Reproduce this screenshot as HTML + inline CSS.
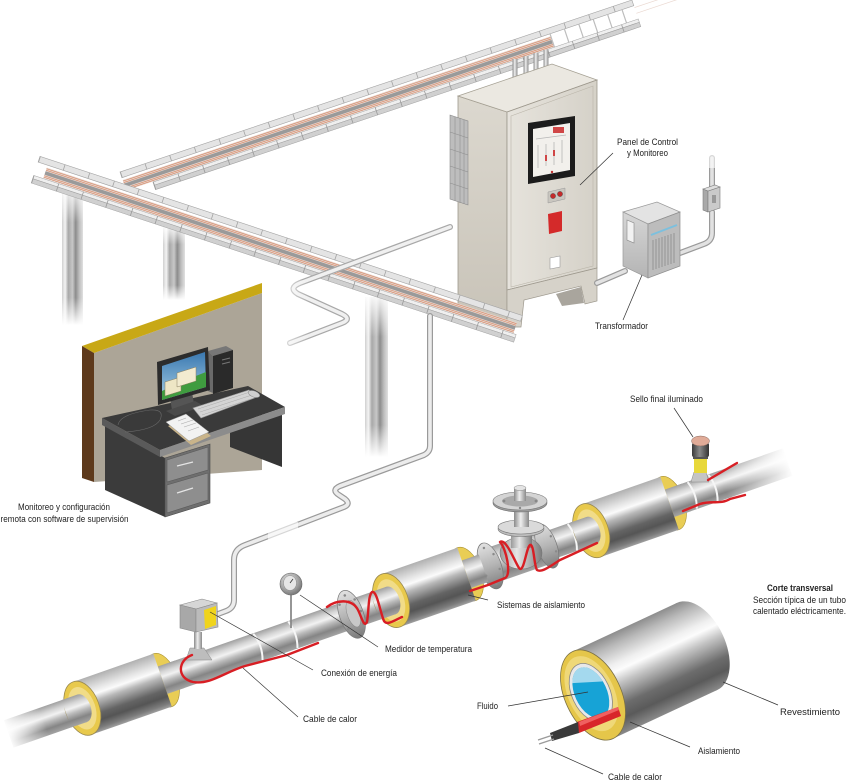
<!DOCTYPE html>
<html><head><meta charset="utf-8"><style>
html,body{margin:0;padding:0;background:#fff;}
svg{display:block;}
text{font-family:"Liberation Sans",Arial,sans-serif;font-size:9.5px;fill:#222;}
</style></head><body>
<svg width="847" height="782" viewBox="0 0 847 782" xmlns="http://www.w3.org/2000/svg">
<defs>
<linearGradient id="pipeG" x1="0" y1="0" x2="0" y2="1">
<stop offset="0" stop-color="#a0a0a0"/><stop offset="0.22" stop-color="#d6d6d6"/><stop offset="0.38" stop-color="#f2f2f2"/><stop offset="0.55" stop-color="#bcbcbc"/><stop offset="0.78" stop-color="#858585"/><stop offset="1" stop-color="#a4a4a4"/>
</linearGradient>
<linearGradient id="insG" x1="0" y1="0" x2="0" y2="1">
<stop offset="0" stop-color="#b0b0b0"/><stop offset="0.22" stop-color="#e4e4e4"/><stop offset="0.33" stop-color="#fbfbfb"/><stop offset="0.45" stop-color="#b8b8b8"/><stop offset="0.68" stop-color="#646464"/><stop offset="0.8" stop-color="#555"/><stop offset="0.93" stop-color="#7c7c7c"/><stop offset="1" stop-color="#a0a0a0"/>
</linearGradient>
<linearGradient id="bigG" x1="0" y1="0" x2="0" y2="1">
<stop offset="0" stop-color="#8d8d8d"/><stop offset="0.12" stop-color="#b9b9b9"/><stop offset="0.3" stop-color="#efefef"/><stop offset="0.38" stop-color="#fcfcfc"/><stop offset="0.5" stop-color="#c4c4c4"/><stop offset="0.72" stop-color="#6c6c6c"/><stop offset="0.85" stop-color="#5a5a5a"/><stop offset="1" stop-color="#8a8a8a"/>
</linearGradient>
<linearGradient id="flG" x1="0" y1="0" x2="0" y2="1">
<stop offset="0" stop-color="#e2e2e2"/><stop offset="0.5" stop-color="#b4b4b4"/><stop offset="1" stop-color="#7a7a7a"/>
</linearGradient>
<linearGradient id="stemG" x1="0" y1="0" x2="1" y2="0">
<stop offset="0" stop-color="#8a8a8a"/><stop offset="0.45" stop-color="#eeeeee"/><stop offset="1" stop-color="#8a8a8a"/>
</linearGradient>
<linearGradient id="vbG" x1="0" y1="0" x2="1" y2="0">
<stop offset="0" stop-color="#9a9a9a"/><stop offset="0.4" stop-color="#e6e6e6"/><stop offset="1" stop-color="#7c7c7c"/>
</linearGradient>
<linearGradient id="fadeL" x1="0" y1="0" x2="1" y2="0">
<stop offset="0" stop-color="#fff" stop-opacity="1"/><stop offset="1" stop-color="#fff" stop-opacity="0"/>
</linearGradient>
<linearGradient id="fadeR" x1="0" y1="0" x2="1" y2="0">
<stop offset="0" stop-color="#fff" stop-opacity="0"/><stop offset="1" stop-color="#fff" stop-opacity="1"/>
</linearGradient>
<linearGradient id="colG" x1="0" y1="0" x2="1" y2="0">
<stop offset="0" stop-color="#d0d0d0"/><stop offset="0.15" stop-color="#f4f4f4"/><stop offset="0.3" stop-color="#a8a8a8"/><stop offset="0.5" stop-color="#c8c8c8"/><stop offset="0.65" stop-color="#8c8c8c"/><stop offset="0.82" stop-color="#bdbdbd"/><stop offset="1" stop-color="#e0e0e0"/>
</linearGradient>
<linearGradient id="colFade" x1="0" y1="0" x2="0" y2="1">
<stop offset="0" stop-color="#fff" stop-opacity="0.9"/><stop offset="0.25" stop-color="#fff" stop-opacity="0"/><stop offset="0.8" stop-color="#fff" stop-opacity="0"/><stop offset="1" stop-color="#fff" stop-opacity="1"/>
</linearGradient>
<linearGradient id="frontG" x1="0" y1="0" x2="1" y2="0">
<stop offset="0" stop-color="#e6e3dc"/><stop offset="1" stop-color="#d5d1c8"/>
</linearGradient>
<linearGradient id="sideG" x1="0" y1="0" x2="0" y2="1">
<stop offset="0" stop-color="#dcd8cf"/><stop offset="1" stop-color="#c8c3b8"/>
</linearGradient>
<linearGradient id="trL" x1="0" y1="0" x2="0" y2="1">
<stop offset="0" stop-color="#d6d6d6"/><stop offset="1" stop-color="#b4b4b4"/>
</linearGradient>
<linearGradient id="sky" x1="0" y1="0" x2="0" y2="1">
<stop offset="0" stop-color="#3a78b0"/><stop offset="1" stop-color="#a6cfe6"/>
</linearGradient>
<radialGradient id="gaugeG" cx="0.4" cy="0.35" r="0.7">
<stop offset="0" stop-color="#f0f0f0"/><stop offset="1" stop-color="#707070"/>
</radialGradient>
<linearGradient id="knobG" x1="0" y1="0" x2="1" y2="0">
<stop offset="0" stop-color="#3a3a3a"/><stop offset="0.45" stop-color="#8a8a8a"/><stop offset="1" stop-color="#333"/>
</linearGradient>
</defs>

<!-- PILLARS -->
<rect x="62" y="188" width="21" height="137" fill="url(#colG)"/>
<rect x="62" y="188" width="21" height="137" fill="url(#colFade)"/>
<rect x="163" y="226" width="22" height="74" fill="url(#colG)"/>
<rect x="163" y="226" width="22" height="74" fill="url(#colFade)"/>
<rect x="365" y="297" width="23" height="160" fill="url(#colG)"/>
<rect x="365" y="297" width="23" height="160" fill="url(#colFade)"/>

<!-- UPPER TRAY -->
<g transform="translate(120,172) rotate(-18.57)">
<line x1="540" y1="8" x2="600" y2="8" stroke="#ead8d0" stroke-width="0.7"/>
<line x1="540" y1="14" x2="590" y2="14" stroke="#ead8d0" stroke-width="0.7"/>
<rect x="0" y="0" width="540" height="6" fill="#e4e4e4" stroke="#a3a3a3" stroke-width="0.6"/>
<line x1="0" y1="3" x2="540" y2="3" stroke="#a3a3a3" stroke-width="6" stroke-dasharray="0.8 25.2"/>
<line x1="451" y1="13" x2="540" y2="13" stroke="#bdbdbd" stroke-width="14" stroke-dasharray="1.2 14"/>
<rect x="0" y="8.5" width="451" height="11" fill="#e8d6ce"/>
<rect x="0" y="12.3" width="451" height="3.6" fill="#9a9a9a"/>
<g stroke="#d68e6e" stroke-width="0.7">
<line x1="0" y1="9.6" x2="451" y2="9.6"/><line x1="0" y1="11.2" x2="451" y2="11.2"/>
<line x1="0" y1="17" x2="451" y2="17"/><line x1="0" y1="18.6" x2="451" y2="18.6"/>
</g>
<rect x="28" y="20" width="512" height="3.5" fill="#efefef" stroke="#a0a0a0" stroke-width="0.5"/>
<rect x="28" y="23.5" width="512" height="4.5" fill="#d0d0d0" stroke="#a0a0a0" stroke-width="0.5"/>
<line x1="28" y1="24" x2="540" y2="24" stroke="#9a9a9a" stroke-width="8" stroke-dasharray="0.8 25.2"/>
</g>

<!-- conduits from cabinet to tray -->
<rect x="512.5" y="59" width="5" height="22" fill="url(#stemG)"/>
<rect x="523.5" y="56" width="5" height="22" fill="url(#stemG)"/>
<rect x="533.5" y="53" width="5" height="21" fill="url(#stemG)"/>
<rect x="543.5" y="50" width="5" height="21" fill="url(#stemG)"/>
<g fill="#d4d4d4" stroke="#888" stroke-width="0.5">
<ellipse cx="515" cy="81" rx="4" ry="1.6"/><ellipse cx="526" cy="78" rx="4" ry="1.6"/><ellipse cx="536" cy="74" rx="4" ry="1.6"/><ellipse cx="546" cy="71" rx="4" ry="1.6"/>
</g>

<!-- CABINET -->
<polygon points="458,96 507,112 507,327 458,307" fill="url(#sideG)" stroke="#9d988d" stroke-width="0.8"/>
<polygon points="458,96 552,64 597,80 507,112" fill="#ebe8e1" stroke="#a5a093" stroke-width="0.8"/>
<polygon points="507,112 597,80 597,268 507,290" fill="url(#frontG)" stroke="#9d988d" stroke-width="0.8"/>
<polygon points="511,116 593,86 593,266 511,287" fill="none" stroke="#b9b4a8" stroke-width="0.6"/>
<polygon points="507,290 597,268 597,301 585,304 581,286 524,300 521,327 507,327" fill="#d6d2c9" stroke="#9d988d" stroke-width="0.7"/>
<polygon points="556,294 581,287 584,303 562,306" fill="#a9a59d"/>
<!-- side vents -->
<polygon points="450,115 468,121 468,205 450,199" fill="#bdbdbd" stroke="#8a8a8a" stroke-width="0.6"/>
<g stroke="#8f8f8f" stroke-width="0.6">
<line x1="450" y1="132" x2="468" y2="138"/><line x1="450" y1="149" x2="468" y2="155"/><line x1="450" y1="166" x2="468" y2="172"/><line x1="450" y1="183" x2="468" y2="189"/>
<line x1="455" y1="117" x2="455" y2="201"/><line x1="460" y1="118" x2="460" y2="203"/><line x1="464" y1="120" x2="464" y2="204"/>
</g>
<!-- screen -->
<polygon points="528,123 575,116 575,176 528,184" fill="#1c1c1c"/>
<polygon points="533,129 570,123 570,170 533,177" fill="#f2f0ec"/>
<rect x="553" y="127" width="11" height="6" fill="#d04646"/>
<g stroke="#b7b7b7" stroke-width="0.8">
<line x1="536" y1="139" x2="566" y2="135"/><line x1="538" y1="145" x2="538" y2="168"/><line x1="546" y1="144" x2="546" y2="166"/><line x1="554" y1="142" x2="554" y2="165"/><line x1="562" y1="140" x2="562" y2="163"/>
</g>
<rect x="545" y="155" width="2" height="6" fill="#d04646"/><rect x="553" y="150" width="2" height="6" fill="#d04646"/>
<circle cx="552" cy="172" r="1.2" fill="#c03030"/>
<!-- buttons -->
<polygon points="548,192 565,188 565,199 548,203" fill="#c9c6bf" stroke="#999" stroke-width="0.5"/>
<circle cx="553" cy="196" r="2.6" fill="#c42a2a" stroke="#555" stroke-width="0.5"/>
<circle cx="560" cy="194" r="2.6" fill="#c42a2a" stroke="#555" stroke-width="0.5"/>
<polygon points="548,214 562,211 562,231 549,234" fill="#d42a2a"/>
<polygon points="550,258 560,256 560,267 550,269" fill="#fff" stroke="#999" stroke-width="0.6"/>

<!-- FRONT TRAY -->
<g transform="translate(40,156.4) rotate(18.26)">
<rect x="0" y="0" width="508" height="6" fill="#e4e4e4" stroke="#a3a3a3" stroke-width="0.6"/>
<line x1="0" y1="3" x2="508" y2="3" stroke="#a3a3a3" stroke-width="6" stroke-dasharray="0.8 25.2"/>
<rect x="10" y="8.5" width="495" height="11" fill="#e8d6ce"/>
<rect x="10" y="12.3" width="495" height="3.6" fill="#9a9a9a"/>
<g stroke="#d68e6e" stroke-width="0.7">
<line x1="10" y1="9.6" x2="505" y2="9.6"/><line x1="10" y1="11.2" x2="505" y2="11.2"/>
<line x1="10" y1="17" x2="505" y2="17"/><line x1="10" y1="18.6" x2="505" y2="18.6"/>
</g>
<rect x="0" y="20" width="508" height="3.5" fill="#efefef" stroke="#a0a0a0" stroke-width="0.5"/>
<rect x="0" y="23.5" width="508" height="4.5" fill="#d0d0d0" stroke="#a0a0a0" stroke-width="0.5"/>
<line x1="0" y1="24" x2="508" y2="24" stroke="#9a9a9a" stroke-width="8" stroke-dasharray="0.8 25.2"/>
</g>

<!-- CONDUITS -->
<g fill="none" stroke-linejoin="round" stroke-linecap="round">
<path d="M450 227 L300 283 Q288 288 298 294 L342 314 Q352 319 342 323 L290 343" stroke="#a8a8a8" stroke-width="6"/>
<path d="M450 227 L300 283 Q288 288 298 294 L342 314 Q352 319 342 323 L290 343" stroke="#f0f0f0" stroke-width="3.6"/>
<path d="M430 316 L430 446 Q430 452 424 455 L340 486 Q331 490 339 495 L345 499 Q351 504 344 507 L245 545 Q234 549 234 560 L234 600 Q234 608 226 611 L218 614" stroke="#9a9a9a" stroke-width="6"/>
<path d="M430 316 L430 446 Q430 452 424 455 L340 486 Q331 490 339 495 L345 499 Q351 504 344 507 L245 545 Q234 549 234 560 L234 600 Q234 608 226 611 L218 614" stroke="#ececec" stroke-width="3.6"/>
<path d="M597 283 L625 271" stroke="#9a9a9a" stroke-width="6"/>
<path d="M597 283 L625 271" stroke="#e2e2e2" stroke-width="3.6"/>
<path d="M680 253 L704 244 Q712 241 712 233 L712 212 M712 188 L712 158" stroke="#9a9a9a" stroke-width="6"/>
<path d="M680 253 L704 244 Q712 241 712 233 L712 212 M712 188 L712 158" stroke="#e2e2e2" stroke-width="3.6"/>
</g>
<rect x="280" y="280" width="30" height="70" fill="url(#fadeL)" opacity="0.7"/>
<rect x="705" y="150" width="15" height="18" fill="#fff" opacity="0.6"/>
<rect x="268" y="522" width="30" height="18" fill="#fff" opacity="0.6"/>
<!-- small junction box near transformer -->
<polygon points="703,189 708,191 708,212 703,210" fill="#a9a9a9" stroke="#7d7d7d" stroke-width="0.6"/>
<polygon points="708,191 720,187 720,208 708,212" fill="#cacaca" stroke="#7d7d7d" stroke-width="0.6"/>
<polygon points="703,189 715,185 720,187 708,191" fill="#dedede" stroke="#7d7d7d" stroke-width="0.6"/>
<rect x="712" y="195" width="4" height="8" fill="#999"/>

<!-- TRANSFORMER -->
<polygon points="623,212 657,202 680,212 648,224" fill="#e3e3e3" stroke="#9a9a9a" stroke-width="0.7"/>
<polygon points="623,212 648,224 648,278 623,266" fill="url(#trL)" stroke="#9a9a9a" stroke-width="0.7"/>
<polygon points="648,224 680,212 680,266 648,278" fill="#bcbcbc" stroke="#8f8f8f" stroke-width="0.7"/>
<polygon points="627,220 634,223 634,243 627,240" fill="#f2f2f2" stroke="#888" stroke-width="0.6"/>
<line x1="651" y1="235" x2="677" y2="225" stroke="#7cc0de" stroke-width="2"/>
<g stroke="#8a8a8a" stroke-width="0.8">
<line x1="653" y1="240" x2="653" y2="270"/><line x1="656" y1="239" x2="656" y2="269"/><line x1="659" y1="238" x2="659" y2="268"/><line x1="662" y1="237" x2="662" y2="267"/><line x1="665" y1="236" x2="665" y2="266"/><line x1="668" y1="235" x2="668" y2="265"/><line x1="671" y1="234" x2="671" y2="264"/><line x1="674" y1="233" x2="674" y2="263"/>
</g>

<!-- WALL & DESK -->
<polygon points="94,353 262,293 262,470 94,482" fill="#aca597"/>
<polygon points="82,346 262,283 262,293 94,353" fill="#c8a816"/>
<polygon points="82,346 94,353 94,482 82,478" fill="#5e3a1c"/>
<polygon points="105,425 165,458 165,517 105,490" fill="#3b3b3b"/>
<polygon points="230,427 282,413 282,467 230,447" fill="#363636"/>
<polygon points="165,458 210,444 210,503 165,517" fill="#6e6e6e" stroke="#4a4a4a" stroke-width="0.6"/>
<polygon points="167,460 208,447 208,470 167,482" fill="#8e8e8e" stroke="#5a5a5a" stroke-width="0.6"/>
<polygon points="167,485 208,473 208,500 167,513" fill="#8e8e8e" stroke="#5a5a5a" stroke-width="0.6"/>
<line x1="177" y1="466" x2="193" y2="462" stroke="#e4e4e4" stroke-width="1.4"/>
<line x1="177" y1="493" x2="193" y2="488" stroke="#e4e4e4" stroke-width="1.4"/>
<polygon points="102,418 248,386 285,407 160,450" fill="#3a3a3a"/>
<polygon points="160,450 285,407 285,414 160,457" fill="#8c8c8c"/>
<polygon points="102,418 160,450 160,457 102,425" fill="#5a5a5a"/>
<path d="M118 425 Q120 414 150 410 Q165 409 160 420 Q154 430 125 432" fill="none" stroke="#6a6a6a" stroke-width="0.6"/>
<!-- papers -->
<polygon points="168,426 189,418 211,436 191,445" fill="#c9b48a"/>
<polygon points="166,422 186,414 209,432 189,441" fill="#f2f2f2" stroke="#999" stroke-width="0.5"/>
<g stroke="#aaa" stroke-width="0.6"><line x1="178" y1="421" x2="186" y2="418"/><line x1="181" y1="424" x2="193" y2="420"/><line x1="184" y1="427" x2="196" y2="423"/><line x1="188" y1="431" x2="199" y2="427"/></g>
<!-- tower -->
<polygon points="208,351 226,346 233,350 213,356" fill="#777"/>
<polygon points="208,351 213,356 213,393 208,391" fill="#6a6a6a"/>
<polygon points="213,356 233,350 233,388 213,394" fill="#2a2a2a"/>
<line x1="222" y1="360" x2="230" y2="358" stroke="#777" stroke-width="1"/><line x1="222" y1="364" x2="230" y2="362" stroke="#777" stroke-width="1"/>
<!-- monitor -->
<polygon points="170,398 192,392 194,404 172,410" fill="#555"/>
<polygon points="166,411 195,401 204,406 175,416" fill="#4a4a4a"/>
<polygon points="157,362 208,347 210,390 158,405" fill="#2c2c2c"/>
<polygon points="162,366 205,352 206,387 162,400" fill="url(#sky)"/>
<polygon points="162,391 183,381 206,372 206,387 162,400" fill="#3f9c3f"/>
<polygon points="165,382 181,377 181,391 165,396" fill="#eee6c5" stroke="#8a8060" stroke-width="0.5"/>
<polygon points="177,373 196,367 196,381 177,387" fill="#f2ebd0" stroke="#8a8060" stroke-width="0.5"/>
<!-- keyboard & mouse -->
<polygon points="193,408 249,390 257,397 201,418" fill="#d4d4d4" stroke="#999" stroke-width="0.6"/>
<g stroke="#aaa" stroke-width="0.5"><line x1="198" y1="409" x2="250" y2="392"/><line x1="200" y1="412" x2="252" y2="395"/><line x1="202" y1="415" x2="254" y2="398"/></g>
<ellipse cx="254" cy="394" rx="6" ry="3" fill="#cfcfcf" stroke="#888" stroke-width="0.5" transform="rotate(20 254 394)"/>

<!-- PIPELINE -->
<g transform="translate(20,730) rotate(-19.24)">
<rect x="-12" y="-14.5" width="825" height="29" fill="url(#pipeG)"/>
<g stroke="#f6f6f6" stroke-width="2" fill="none">
<path d="M252 -14 Q257 0 252 14"/><path d="M289 -14 Q294 0 289 14"/><path d="M585 -14 Q590 0 585 14"/><path d="M712 -14 Q717 0 712 14"/><path d="M734 -14 Q739 0 734 14"/>
</g>
<!-- flange -->
<rect x="342" y="-17" width="18" height="34" fill="url(#pipeG)"/>
<ellipse cx="351" cy="0" rx="12" ry="25" fill="url(#flG)" stroke="#7a7a7a" stroke-width="0.7"/>
<ellipse cx="353" cy="0" rx="6" ry="14" fill="#c8c8c8" stroke="#888" stroke-width="0.5"/>
<g fill="#8a8a8a"><circle cx="351" cy="-20" r="1.3"/><circle cx="359" cy="-13" r="1.3"/><circle cx="361" cy="0" r="1.3"/><circle cx="359" cy="13" r="1.3"/><circle cx="351" cy="20" r="1.3"/><circle cx="343" cy="13" r="1.3"/><circle cx="343" cy="-13" r="1.3"/></g>
<!-- valve pipe part -->
<rect x="498" y="-18" width="60" height="36" fill="url(#pipeG)"/>
<ellipse cx="498" cy="0" rx="11" ry="24" fill="url(#flG)" stroke="#777" stroke-width="0.7"/>
<ellipse cx="558" cy="0" rx="10" ry="23" fill="url(#flG)" stroke="#777" stroke-width="0.7"/>
<g fill="#8a8a8a"><circle cx="498" cy="-19" r="1.2"/><circle cx="505" cy="-10" r="1.2"/><circle cx="506" cy="6" r="1.2"/><circle cx="498" cy="19" r="1.2"/><circle cx="491" cy="8" r="1.2"/><circle cx="565" cy="-8" r="1.2"/><circle cx="565" cy="8" r="1.2"/><circle cx="558" cy="18" r="1.2"/></g>
<!-- section 1 -->
<ellipse cx="151" cy="0" rx="15" ry="28" fill="#e9cd55" stroke="#a89030" stroke-width="0.6"/>
<rect x="151" y="-14.5" width="18" height="29" fill="url(#pipeG)"/>
<rect x="66" y="-28" width="85" height="56" fill="url(#insG)"/>
<ellipse cx="66" cy="0" rx="17" ry="28" fill="#e8c94c" stroke="#9a8a50" stroke-width="0.8"/>
<ellipse cx="66" cy="0" rx="13" ry="22" fill="#f1dc88"/>
<rect x="49" y="-14.5" width="17" height="29" fill="url(#pipeG)"/>
<ellipse cx="66" cy="0" rx="8.5" ry="14.5" fill="url(#pipeG)"/>
<!-- section 2 -->
<ellipse cx="473" cy="0" rx="15" ry="28" fill="#e9cd55" stroke="#a89030" stroke-width="0.6"/>
<rect x="473" y="-14.5" width="18" height="29" fill="url(#pipeG)"/>
<rect x="393" y="-28" width="80" height="56" fill="url(#insG)"/>
<ellipse cx="393" cy="0" rx="17" ry="28" fill="#e8c94c" stroke="#9a8a50" stroke-width="0.8"/>
<ellipse cx="393" cy="0" rx="13" ry="22" fill="#f1dc88"/>
<rect x="376" y="-14.5" width="17" height="29" fill="url(#pipeG)"/>
<ellipse cx="393" cy="0" rx="8.5" ry="14.5" fill="url(#pipeG)"/>
<!-- section 3 -->
<ellipse cx="688" cy="0" rx="15" ry="28" fill="#e9cd55" stroke="#a89030" stroke-width="0.6"/>
<rect x="688" y="-14.5" width="18" height="29" fill="url(#pipeG)"/>
<rect x="605" y="-28" width="83" height="56" fill="url(#insG)"/>
<ellipse cx="605" cy="0" rx="17" ry="28" fill="#e8c94c" stroke="#9a8a50" stroke-width="0.8"/>
<ellipse cx="605" cy="0" rx="13" ry="22" fill="#f1dc88"/>
<rect x="588" y="-14.5" width="17" height="29" fill="url(#pipeG)"/>
<ellipse cx="605" cy="0" rx="8.5" ry="14.5" fill="url(#pipeG)"/>
<!-- fades -->
<rect x="-14" y="-17" width="40" height="34" fill="url(#fadeL)"/>
<rect x="745" y="-17" width="70" height="34" fill="url(#fadeR)"/>
</g>

<!-- valve bonnet -->
<ellipse cx="521" cy="553" rx="21" ry="16" fill="url(#vbG)" stroke="#777" stroke-width="0.6"/>
<rect x="511" y="526" width="21" height="22" fill="url(#vbG)"/>
<ellipse cx="521" cy="529" rx="23" ry="7.5" fill="#bdbdbd" stroke="#777" stroke-width="0.6"/>
<ellipse cx="521" cy="527" rx="23" ry="7" fill="#dadada" stroke="#777" stroke-width="0.6"/>
<rect x="514" y="508" width="15" height="19" fill="url(#stemG)"/>
<ellipse cx="520" cy="503" rx="27" ry="9" fill="#9c9c9c" stroke="#6a6a6a" stroke-width="0.6"/>
<ellipse cx="520" cy="501" rx="27" ry="9" fill="#d4d4d4" stroke="#777" stroke-width="0.6"/>
<ellipse cx="520" cy="501" rx="18" ry="5.5" fill="#a9a9a9"/>
<g fill="#888"><circle cx="504" cy="501" r="1.4"/><circle cx="536" cy="501" r="1.4"/><circle cx="520" cy="508" r="1.2"/></g>
<rect x="514" y="488" width="12" height="13" fill="url(#stemG)"/>
<ellipse cx="520" cy="488" rx="6" ry="2.5" fill="#e4e4e4" stroke="#888" stroke-width="0.5"/>

<!-- junction box -->
<polygon points="190,648 204,648 212,660 186,660" fill="#bdbdbd" stroke="#888" stroke-width="0.5"/>
<rect x="194" y="632" width="8" height="17" fill="url(#stemG)"/>
<polygon points="180,605 202,599 217,603 196,609" fill="#d6d6d6" stroke="#888" stroke-width="0.6"/>
<polygon points="180,605 196,609 196,632 180,628" fill="#a8a8a8" stroke="#888" stroke-width="0.6"/>
<polygon points="196,609 217,603 218,627 196,632" fill="#bbb" stroke="#888" stroke-width="0.6"/>
<polygon points="204,610 216,606 216,625 205,629" fill="#f0d41c"/>

<!-- gauge -->
<line x1="291" y1="595" x2="291" y2="628" stroke="#8a8a8a" stroke-width="1.8"/>
<circle cx="291" cy="584" r="11" fill="url(#gaugeG)" stroke="#666" stroke-width="0.6"/>
<ellipse cx="290" cy="583" rx="6.5" ry="7.5" fill="#e6e6e6" stroke="#888" stroke-width="0.5"/>
<line x1="290" y1="583" x2="293" y2="579" stroke="#333" stroke-width="0.8"/>

<!-- end seal -->
<polygon points="691,482 709,482 706,472 694,472" fill="#c4c4c4" stroke="#888" stroke-width="0.5"/>
<rect x="694" y="457" width="13" height="16" fill="#e8d83a"/>
<rect x="693" y="456" width="15" height="3" fill="#555"/>
<rect x="692" y="443" width="17" height="14" rx="2" fill="url(#knobG)"/>
<ellipse cx="700.5" cy="441" rx="9" ry="5" fill="#e0ab98" stroke="#8a6a60" stroke-width="0.5"/>

<!-- RED HEATING CABLE -->
<g fill="none" stroke="#d81e24" stroke-width="2.4" stroke-linecap="round" stroke-linejoin="round">
<path d="M192 655 C178 660 176 678 193 682 C210 685 225 672 245 666 L287 655 L318 643"/>
<path d="M327 607 C336 600 352 598 358 610 C362 618 364 628 367 622 C369 610 368 596 372 592 C377 590 380 612 384 621 C387 626 395 620 402 617"/>
<path d="M470 591 L488 585 L505 578 C512 575 506 548 500 542 M500 542 C506 538 514 560 519 568 C524 574 526 548 530 545 C534 543 534 566 537 570 C542 573 552 565 560 560 L597 543"/>
<path d="M683 511 L700 504 C712 500 720 505 730 499 L745 495"/>
<path d="M708 480 L725 470 L737 463"/>
</g>

<!-- CROSS SECTION -->
<g transform="translate(593,695) rotate(-25)">
<clipPath id="fc"><ellipse cx="-1" cy="-3" rx="16" ry="27"/></clipPath>
<ellipse cx="115" cy="0" rx="28" ry="48" fill="url(#bigG)"/>
<rect x="0" y="-48" width="115" height="96" fill="url(#bigG)"/>
<ellipse cx="0" cy="0" rx="28" ry="48" fill="#e5c64a" stroke="#7d7245" stroke-width="0.8"/>
<ellipse cx="-1" cy="-2" rx="23" ry="40" fill="#efd878"/>
<ellipse cx="-1" cy="-3" rx="19" ry="31" fill="#e8e8e8" stroke="#888" stroke-width="0.8"/>
<ellipse cx="-1" cy="-3" rx="16" ry="27" fill="#17a3d6"/>
<polygon clip-path="url(#fc)" points="-20,-35 20,-35 20,-6 -20,-22" fill="#a4d9ee"/>
</g>
<polygon points="577,722 618,707 621,716 579,733" fill="#d8262a"/>
<polygon points="579,722 618,707 619,710 580,726" fill="#f06060"/>
<polygon points="550,733 578,722 579,733 552,741" fill="#3a3a3a"/>
<g stroke="#9a9a9a" stroke-width="1.3"><line x1="538" y1="740" x2="553" y2="735"/><line x1="539" y1="744" x2="554" y2="739"/></g>

<!-- LEADER LINES -->
<g stroke="#333" stroke-width="0.7" fill="none">
<line x1="613" y1="153" x2="580" y2="185"/>
<line x1="642" y1="275" x2="623" y2="320"/>
<line x1="674" y1="408" x2="693" y2="437"/>
<line x1="468" y1="595" x2="488" y2="600"/>
<line x1="300" y1="595" x2="378" y2="647"/>
<line x1="210" y1="612" x2="313" y2="670"/>
<line x1="243" y1="668" x2="298" y2="717"/>
<line x1="508" y1="706" x2="588" y2="692"/>
<line x1="723" y1="682" x2="778" y2="705"/>
<line x1="630" y1="722" x2="690" y2="747"/>
<line x1="545" y1="748" x2="603" y2="774"/>
</g>

<!-- LABELS -->
<text x="617" y="145" textLength="61" lengthAdjust="spacingAndGlyphs">Panel de Control</text>
<text x="627" y="156" textLength="41" lengthAdjust="spacingAndGlyphs">y Monitoreo</text>
<text x="595" y="329" textLength="53" lengthAdjust="spacingAndGlyphs">Transformador</text>
<text x="18" y="510" textLength="92" lengthAdjust="spacingAndGlyphs">Monitoreo y configuración</text>
<text x="0.5" y="522" textLength="128" lengthAdjust="spacingAndGlyphs">remota con software de supervisión</text>
<text x="630" y="402" textLength="73" lengthAdjust="spacingAndGlyphs">Sello final iluminado</text>
<text x="497" y="608" textLength="88" lengthAdjust="spacingAndGlyphs">Sistemas de aislamiento</text>
<text x="767" y="591" textLength="66" lengthAdjust="spacingAndGlyphs" font-weight="bold">Corte transversal</text>
<text x="753" y="603" textLength="93" lengthAdjust="spacingAndGlyphs">Sección típica de un tubo</text>
<text x="753" y="614" textLength="93" lengthAdjust="spacingAndGlyphs">calentado eléctricamente.</text>
<text x="385" y="652" textLength="87" lengthAdjust="spacingAndGlyphs">Medidor de temperatura</text>
<text x="321" y="676" textLength="76" lengthAdjust="spacingAndGlyphs">Conexión de energía</text>
<text x="303" y="722" textLength="54" lengthAdjust="spacingAndGlyphs">Cable de calor</text>
<text x="477" y="709" textLength="21" lengthAdjust="spacingAndGlyphs">Fluido</text>
<text x="780" y="715" textLength="60" lengthAdjust="spacingAndGlyphs">Revestimiento</text>
<text x="698" y="754" textLength="42" lengthAdjust="spacingAndGlyphs">Aislamiento</text>
<text x="608" y="780" textLength="54" lengthAdjust="spacingAndGlyphs">Cable de calor</text>
</svg>
</body></html>
